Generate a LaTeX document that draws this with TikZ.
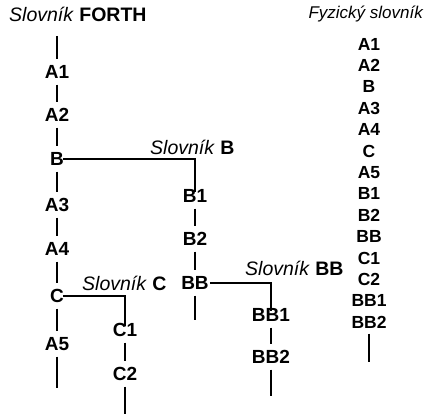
\documentclass[tikz,border=0pt]{standalone}
\usepackage{fontspec}
\setmainfont{Liberation Sans}
\begin{document}
\begin{tikzpicture}[x=1pt,y=-1pt,
  lbl/.style={font=\fontsize{19}{19}\selectfont\bfseries, inner sep=0pt, minimum height=15pt, minimum width=14pt},
  phys/.style={font=\fontsize{17.5}{17.5}\selectfont\bfseries, inner sep=0pt},
  ttl/.style={font=\fontsize{19.5}{20}\selectfont, inner sep=0pt},
  ptl/.style={font=\fontsize{17}{17}\selectfont, inner sep=0pt},
  ln/.style={line width=1.1pt, shorten <=5pt, shorten >=5pt},
  br/.style={line width=1.1pt}]
\useasboundingbox (0,0) rectangle (428,414);
% left column
\node[ttl, anchor=west] (tf) at (9,14) {\textit{Slovník} \textbf{FORTH}};
\coordinate (t0) at (57,36);
\node[lbl] (a1) at (57,72) {A1};
\node[lbl] (a2) at (57,115) {A2};
\node[lbl] (b) at (57,159) {B};
\node[lbl] (a3) at (57,205) {A3};
\node[lbl] (a4) at (57,249) {A4};
\node[lbl] (c) at (57,296) {C};
\node[lbl] (a5) at (57,344) {A5};
\coordinate (t1) at (57,388);
\draw[line width=1.1pt, shorten >=5pt] (t0) -- (a1);
\draw[ln] (a1) -- (a2);
\draw[ln] (a2) -- (b);
\draw[ln] (b) -- (a3);
\draw[ln] (a3) -- (a4);
\draw[ln] (a4) -- (c);
\draw[ln] (c) -- (a5);
\draw[line width=1.1pt, shorten <=5pt] (a5) -- (t1);
% B dictionary
\node[ttl, anchor=west] (tb) at (150,147) {\textit{Slovník} \textbf{B}};
\node[lbl] (b1) at (195,196) {B1};
\node[lbl] (b2) at (195,239) {B2};
\node[lbl] (bb) at (195,283) {BB};
\coordinate (t2) at (195,320);
\draw[br] ([xshift=-1pt]b.east) -- (b1.north |- b.east) -- ([yshift=-4pt]b1.north);
\draw[ln] (b1) -- (b2);
\draw[ln] (b2) -- (bb);
\draw[line width=1.1pt, shorten <=5pt] (bb) -- (t2);
% BB dictionary
\node[ttl, anchor=west] (tbb) at (245,268) {\textit{Slovník} \textbf{BB}};
\node[lbl] (bb1) at (271,315) {BB1};
\node[lbl] (bb2) at (271,357) {BB2};
\coordinate (t3) at (271,396);
\draw[br] ([xshift=1pt]bb.east) -- (bb1.north |- bb.east) -- ([yshift=-4pt]bb1.north);
\draw[ln] (bb1) -- (bb2);
\draw[line width=1.1pt, shorten <=5pt] (bb2) -- (t3);
% C dictionary
\node[ttl, anchor=west] (tc) at (82,283) {\textit{Slovník} \textbf{C}};
\node[lbl] (c1) at (125,330) {C1};
\node[lbl] (c2) at (125,374) {C2};
\coordinate (t4) at (125,414);
\draw[br] ([xshift=-1pt]c.east) -- (c1.north |- c.east) -- ([yshift=-4pt]c1.north);
\draw[ln] (c1) -- (c2);
\draw[line width=1.1pt, shorten <=5pt] (c2) -- (t4);
% physical dictionary
\node[ptl] (tp) at (366,14) {\textit{Fyzický slovník}};
\foreach \n/\t [count=\i from 0] in {p1/A1,p2/A2,p3/B,p4/A3,p5/A4,p6/C,p7/A5,p8/B1,p9/B2,p10/BB,p11/C1,p12/C2,p13/BB1,p14/BB2}{
  \node[phys] (\n) at (369,44+21.4*\i) {\t};
}
\coordinate (t5) at (369,362);
\draw[line width=1.1pt, shorten <=5pt] (p14) -- (t5);
\end{tikzpicture}
\end{document}
